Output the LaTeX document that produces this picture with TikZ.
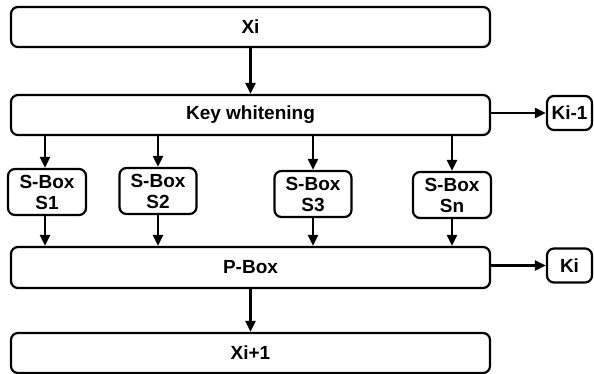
\documentclass[tikz,border=0pt]{standalone}
\usepackage{fontspec}
\setmainfont{Liberation Sans}
\usetikzlibrary{arrows.meta}
\begin{document}
\begin{tikzpicture}[x=1pt,y=-1pt,
  blk/.style={draw,line width=2.2pt,rounded corners=7pt,inner sep=0pt,
    font=\fontsize{19}{21}\selectfont\bfseries,align=center},
  flow/.style={line width=2.2pt,-{Triangle[length=11pt,width=10pt]}}]
\useasboundingbox (0,0) rectangle (594,374);
% wide stage boxes
\node[blk,minimum width=479pt,minimum height=40pt] (xi) at (250.5,27) {Xi};
\node[blk,minimum width=479pt,minimum height=40pt] (kw) at (250.5,115) {Key whitening};
\node[blk,minimum width=479pt,minimum height=41pt] (pb) at (250.5,267.5) {P-Box};
\node[blk,minimum width=479pt,minimum height=40pt] (xo) at (250.5,353) {Xi+1};
% round keys
\node[blk,minimum width=45pt,minimum height=34pt] (k1) at (569.5,113) {Ki-1};
\node[blk,minimum width=45pt,minimum height=34pt] (k2) at (569.5,265.5) {Ki};
% substitution boxes
\node[blk,minimum width=78pt,minimum height=46pt] (s1) at (47,192) {S-Box\\S1};
\node[blk,minimum width=77pt,minimum height=46pt] (s2) at (158,191) {S-Box\\S2};
\node[blk,minimum width=77pt,minimum height=46pt] (s3) at (313,194) {S-Box\\S3};
\node[blk,minimum width=78pt,minimum height=46pt] (sn) at (452,195) {S-Box\\Sn};
% connectors
\draw[flow] (xi) -- (kw);
\draw[flow] (pb) -- (xo);
\draw[flow] (kw.east |- k1) -- (k1.west);
\draw[flow] (pb.east |- k2) -- (k2.west);
\foreach \s/\x in {s1/45,s2/158,s3/313,sn/452}{
  \draw[flow] (kw.south -| \x,0) -- (\s.north -| \x,0);
  \draw[flow] (\s.south -| \x,0) -- (pb.north -| \x,0);
}
\end{tikzpicture}
\end{document}
